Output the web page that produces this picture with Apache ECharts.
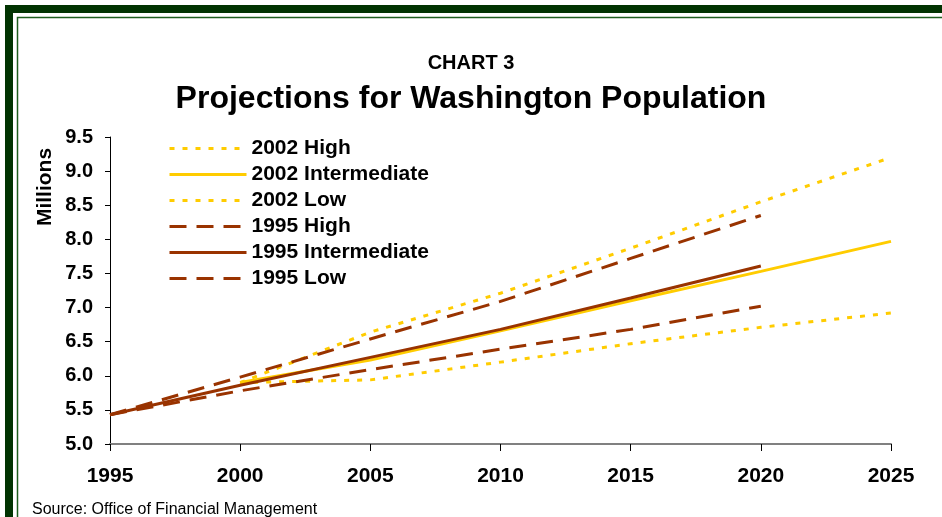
<!DOCTYPE html>
<html>
<head>
<meta charset="utf-8">
<script src="https://cdn.jsdelivr.net/npm/echarts@6/dist/echarts.min.js"></script>
<style>
html,body{margin:0;padding:0;background:#fff;}
#chart{width:942px;height:517px;}
</style>
</head>
<body>
<div id="chart"></div>
<script>
// ---- data ----
const years1995 = [1995, 2000, 2005, 2010, 2015, 2020];
const years2002 = [2000, 2005, 2010, 2015, 2020, 2025];
const high2002 = [5.90, 6.64, 7.21, 7.87, 8.55, 9.20];
const int2002  = [5.90, 6.23, 6.66, 7.10, 7.53, 7.97];
const low2002  = [5.90, 5.94, 6.20, 6.47, 6.71, 6.92];
const high1995 = [5.43, 5.98, 6.54, 7.09, 7.72, 8.35];
const int1995  = [5.43, 5.86, 6.27, 6.68, 7.14, 7.61];
const low1995  = [5.43, 5.78, 6.09, 6.39, 6.68, 7.02];
const seriesNames = ['2002 High', '2002 Intermediate', '2002 Low', '1995 High', '1995 Intermediate', '1995 Low'];
const xTicks = [1995, 2000, 2005, 2010, 2015, 2020, 2025];
const yTicks = [5.0, 5.5, 6.0, 6.5, 7.0, 7.5, 8.0, 8.5, 9.0, 9.5];

const FONT = '"Liberation Sans", Arial, sans-serif';
const YELLOW = '#FFCC00';
const BROWN = '#993300';
const pairs = (xs, ys) => xs.map((x, i) => [x, ys[i]]);

function mk(name, xs, ys, color, type) {
  return {
    name: name,
    type: 'line',
    data: pairs(xs, ys),
    symbol: 'none',
    showSymbol: false,
    silent: true,
    lineStyle: { color: color, width: 3, type: type, cap: 'butt' },
    itemStyle: { color: color },
    animation: false
  };
}

const chart = echarts.init(document.getElementById('chart'), null, { renderer: 'canvas' });
chart.setOption({
  animation: false,
  backgroundColor: '#ffffff',
  title: [
    { text: 'CHART 3', left: 'center', top: 48,
      textStyle: { fontFamily: FONT, fontSize: 20, fontWeight: 'bold', color: '#000' } },
    { text: 'Projections for Washington Population', left: 'center', top: 78,
      textStyle: { fontFamily: FONT, fontSize: 32, fontWeight: 'bold', color: '#000' } }
  ],
  legend: {
    orient: 'vertical',
    left: 168,
    top: 138,
    padding: 0,
    itemWidth: 77,
    itemHeight: 14,
    itemGap: 5,
    data: seriesNames,
    itemStyle: { opacity: 0 },
    lineStyle: { width: 3 },
    textStyle: { fontFamily: FONT, fontSize: 21, fontWeight: 'bold', color: '#000', lineHeight: 21 },
    selectedMode: false
  },
  grid: { left: 110, right: 51, top: 137, bottom: 73, containLabel: false },
  xAxis: {
    type: 'value',
    min: xTicks[0],
    max: xTicks[xTicks.length - 1],
    interval: 5,
    axisLine: { show: true, lineStyle: { color: '#808080', width: 2 } },
    axisTick: { show: true, length: 7, lineStyle: { color: '#000', width: 1 } },
    splitLine: { show: false },
    axisLabel: { margin: 22, fontFamily: FONT, fontSize: 21, fontWeight: 'bold', color: '#000',
      formatter: v => String(v) }
  },
  yAxis: {
    type: 'value',
    min: yTicks[0],
    max: yTicks[yTicks.length - 1],
    interval: 0.5,
    axisLine: { show: true, lineStyle: { color: '#000', width: 1 } },
    axisTick: { show: true, length: 5, lineStyle: { color: '#000', width: 1 } },
    splitLine: { show: false },
    axisLabel: { margin: 17, fontFamily: FONT, fontSize: 20, fontWeight: 'bold', color: '#000',
      formatter: v => v.toFixed(1) }
  },
  graphic: [
    { id: 'frameOuter', type: 'rect', shape: { x: 9, y: 9, width: 960, height: 540 }, silent: true, z: 100,
      style: { fill: 'none', stroke: '#013301', lineWidth: 8 } },
    { id: 'frameInner', type: 'rect', shape: { x: 17.5, y: 17.5, width: 960, height: 540 }, silent: true, z: 100,
      style: { fill: 'none', stroke: '#1d5e1d', lineWidth: 1.5 } },
    { type: 'text', left: 32, top: 502, silent: true,
      style: { text: 'Source: Office of Financial Management', fontFamily: FONT, fontSize: 16, fill: '#000' } },
    { type: 'text', x: 45, y: 187, rotation: Math.PI / 2, silent: true,
      style: { text: 'Millions', fontFamily: FONT, fontSize: 21, fontWeight: 'bold', fill: '#000',
        align: 'center', verticalAlign: 'middle' } }
  ],
  series: [
    mk(seriesNames[0], years2002, high2002, YELLOW, [5, 8]),
    mk(seriesNames[1], years2002, int2002, YELLOW, 'solid'),
    mk(seriesNames[2], years2002, low2002, YELLOW, [5, 8]),
    mk(seriesNames[3], years1995, high1995, BROWN, [17, 10]),
    mk(seriesNames[4], years1995, int1995, BROWN, 'solid'),
    mk(seriesNames[5], years1995, low1995, BROWN, [17, 10])
  ]
});
</script>
</body>
</html>
